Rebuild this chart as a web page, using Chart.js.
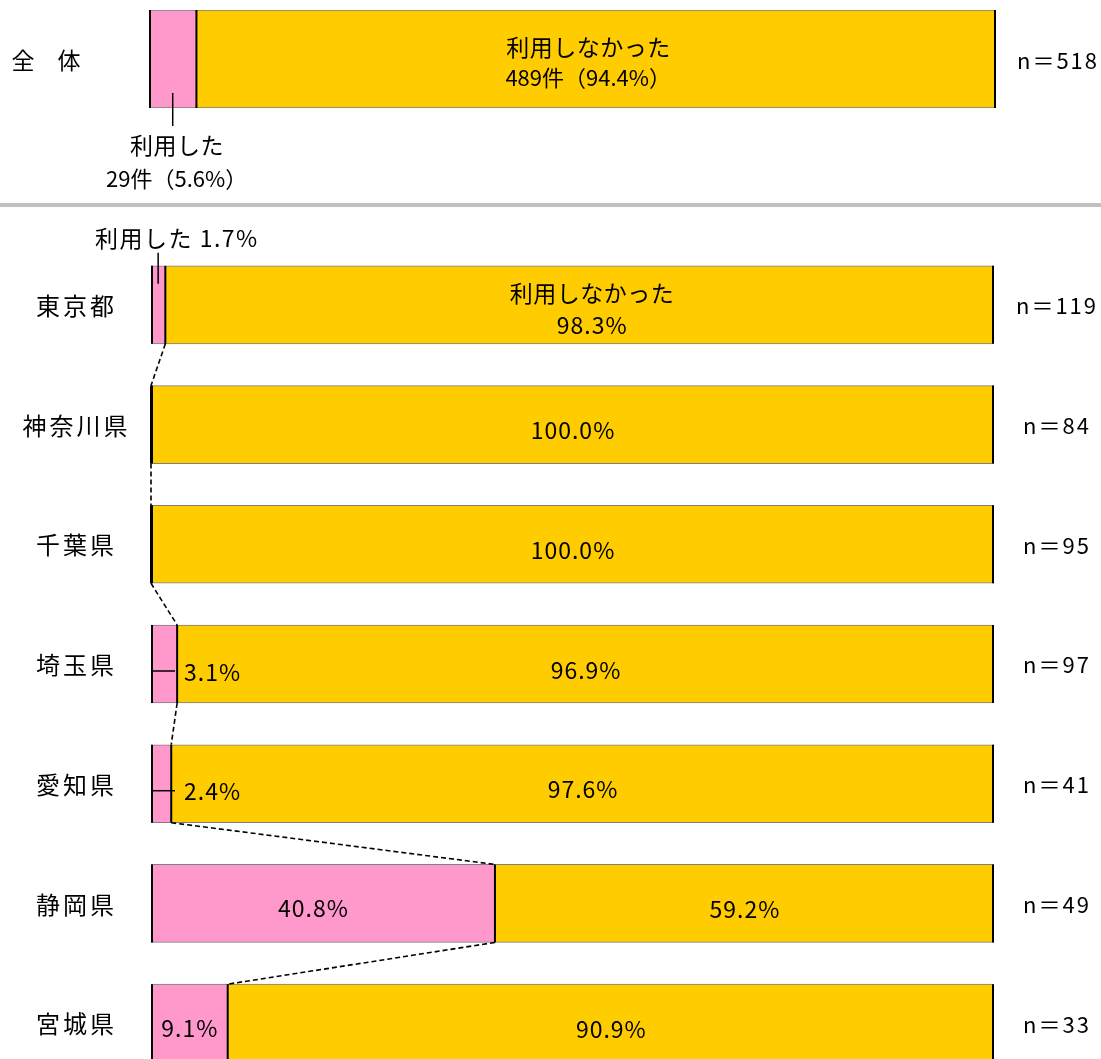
<!DOCTYPE html>
<html>
<head>
<meta charset="utf-8">
<script src="https://cdn.jsdelivr.net/npm/chart.js@4.4.1/dist/chart.umd.min.js"></script>
<style>
html, body { margin: 0; padding: 0; background: #fff; overflow: hidden; }
#wrap { position: relative; width: 1101px; height: 1059px; overflow: hidden; }
#topChart { position: absolute; left: 0; top: 0; }
#sep { position: absolute; left: 0; top: 203px; width: 1101px; height: 4px; background: #c0c0c0; }
#bottomChart { position: absolute; left: 0; top: 207px; }
</style>
</head>
<body>
<div id="wrap">
  <canvas id="topChart" width="1101" height="203"></canvas>
  <div id="sep"></div>
  <canvas id="bottomChart" width="1101" height="880"></canvas>
</div>
<script>
const FONT = '"Noto Sans CJK JP", "Noto Sans", sans-serif';
const PINK = '#ff99cc';
const YELLOW = '#ffcc00';
const EDGE = '#7f7f7f';

const seriesNames = ['利用した', '利用しなかった'];

// 全体
const totalCategory = ['全　体'];
const totalUsedPct = [5.6];
const totalNotUsedPct = [94.4];
const totalUsedCount = [29];
const totalNotUsedCount = [489];
const totalN = [518];

// 都県別
const regions = ['東京都', '神奈川県', '千葉県', '埼玉県', '愛知県', '静岡県', '宮城県'];
const usedPct = [1.7, 0, 0, 3.1, 2.4, 40.8, 9.1];
const notUsedPct = [98.3, 100, 100, 96.9, 97.6, 59.2, 90.9];
const regionN = [119, 84, 95, 97, 41, 49, 33];

function pct(v) { return v.toFixed(1) + '%'; }

function txt(ctx, s, x, y, size, align, spacing) {
    ctx.font = size + 'px ' + FONT;
    ctx.letterSpacing = (spacing || 0) + 'px';
    ctx.textAlign = align || 'center';
    ctx.textBaseline = 'middle';
    ctx.fillStyle = '#000';
    // letterSpacing adds a trailing gap, compensate when centred
    const dx = (align || 'center') === 'center' ? (spacing || 0) / 2 : 0;
    ctx.fillText(s, x + dx, y);
    ctx.letterSpacing = '0px';
}

function line(ctx, x1, y1, x2, y2) {
    ctx.beginPath();
    ctx.moveTo(x1, y1);
    ctx.lineTo(x2, y2);
    ctx.stroke();
}

// 黒い縦線（左端・境界・右端）
function edges(ctx, p, q) {
    const top = q.y - q.height / 2, bot = q.y + q.height / 2;
    ctx.strokeStyle = '#000';
    ctx.lineWidth = 2;
    ctx.setLineDash([]);
    [p.base + 1, q.base, q.x - 1].forEach(x => line(ctx, x, top, x, bot));
}

// カテゴリ名（y軸の位置を使って中央揃えで描く）
function categoryLabels(chart, cx, size, spacing) {
    const y = chart.scales.y;
    chart.data.labels.forEach((lab, i) => {
        txt(chart.ctx, lab, cx, y.getPixelForTick(i) + 1, size, 'center', spacing);
    });
}

function makeDatasets(used, notUsed, thickness) {
    const common = {
        borderColor: EDGE,
        borderWidth: { top: 1, bottom: 1, left: 0, right: 0 },
        borderSkipped: false,
        barThickness: thickness
    };
    return [
        Object.assign({ label: seriesNames[0], data: used, backgroundColor: PINK }, common),
        Object.assign({ label: seriesNames[1], data: notUsed, backgroundColor: YELLOW }, common)
    ];
}

function barOptions(padding) {
    return {
        indexAxis: 'y',
        responsive: false,
        animation: false,
        events: [],
        layout: { padding: padding },
        plugins: { legend: { display: false }, tooltip: { enabled: false } },
        scales: {
            x: { stacked: true, min: 0, max: 100, display: false },
            y: { stacked: true, display: false }
        }
    };
}

const topLabels = {
    id: 'topLabels',
    afterDatasetsDraw(chart) {
        const ctx = chart.ctx;
        const p = chart.getDatasetMeta(0).data[0];
        const q = chart.getDatasetMeta(1).data[0];
        const bot = q.y + q.height / 2;
        ctx.save();
        edges(ctx, p, q);
        categoryLabels(chart, 46, 23, 0);

        const cx = (q.base + q.x) / 2 - 8;
        txt(ctx, seriesNames[1], cx, q.y - 12, 23, 'center', 0.5);
        txt(ctx, totalNotUsedCount[0] + '件（' + pct(totalNotUsedPct[0]) + '）', cx, q.y + 19, 22, 'center', 0);

        const px = (p.base + p.x) / 2;
        ctx.strokeStyle = '#000';
        ctx.lineWidth = 1.5;
        line(ctx, px, bot - 15, px, bot + 18);
        txt(ctx, seriesNames[0], px + 4, bot + 37, 23, 'center', 0.5);
        txt(ctx, totalUsedCount[0] + '件（' + pct(totalUsedPct[0]) + '）', px + 4, bot + 71, 22, 'center', 0);

        txt(ctx, 'n＝' + totalN[0], 1057, q.y + 2, 22, 'center', 2);
        ctx.restore();
    }
};

const bottomLabels = {
    id: 'bottomLabels',
    afterDatasetsDraw(chart) {
        const ctx = chart.ctx;
        const pink = chart.getDatasetMeta(0).data;
        const yel = chart.getDatasetMeta(1).data;
        ctx.save();
        categoryLabels(chart, 75, 24, 3);

        regions.forEach((r, i) => {
            const p = pink[i], q = yel[i];
            edges(ctx, p, q);
            const top = q.y - q.height / 2;

            // 利用しなかった
            const cx = (q.base + q.x) / 2;
            if (i === 0) {
                txt(ctx, seriesNames[1], cx + 12, q.y - 12, 23, 'center', 0.5);
                txt(ctx, pct(notUsedPct[i]), cx + 12, q.y + 20, 23, 'center', 1);
            } else {
                txt(ctx, pct(notUsedPct[i]), cx, q.y + 6, 23, 'center', 1);
            }

            // 利用した
            const v = usedPct[i];
            ctx.strokeStyle = '#000';
            ctx.lineWidth = 1.5;
            if (v <= 0) return;
            if (i === 0) {
                const px = (p.base + p.x) / 2;
                line(ctx, px, top - 13, px, top + 18);
                txt(ctx, seriesNames[0] + ' ' + pct(v), px + 18, top - 28, 23, 'center', 1.5);
            } else if (v < 5) {
                line(ctx, p.base + 2, q.y + 7, p.base + 24, q.y + 7);
                txt(ctx, pct(v), p.base + 33, q.y + 8, 23, 'left', 1);
            } else {
                txt(ctx, pct(v), (p.base + p.x) / 2 - (v > 20 ? 10 : 0), q.y + 5, 23, 'center', 1);
            }
        });

        // 系列線（破線）
        ctx.strokeStyle = '#000';
        ctx.lineWidth = 1.6;
        ctx.setLineDash([5, 3]);
        for (let i = 0; i < regions.length - 1; i++) {
            const a = yel[i], b = yel[i + 1];
            line(ctx, a.base, a.y + a.height / 2, b.base, b.y - b.height / 2);
        }
        ctx.setLineDash([]);

        regions.forEach((r, i) => {
            txt(ctx, 'n＝' + regionN[i], 1056, yel[i].y + 1, 22, 'center', 2);
        });
        ctx.restore();
    }
};

new Chart(document.getElementById('topChart'), {
    type: 'bar',
    data: { labels: totalCategory, datasets: makeDatasets(totalUsedPct, totalNotUsedPct, 98) },
    options: barOptions({ top: 10, bottom: 95, right: 105, left: 149 }),
    plugins: [topLabels]
});

new Chart(document.getElementById('bottomChart'), {
    type: 'bar',
    data: { labels: regions, datasets: makeDatasets(usedPct, notUsedPct, 78) },
    options: barOptions({ top: 38, bottom: 4, right: 107, left: 151 }),
    plugins: [bottomLabels]
});
</script>
</body>
</html>
